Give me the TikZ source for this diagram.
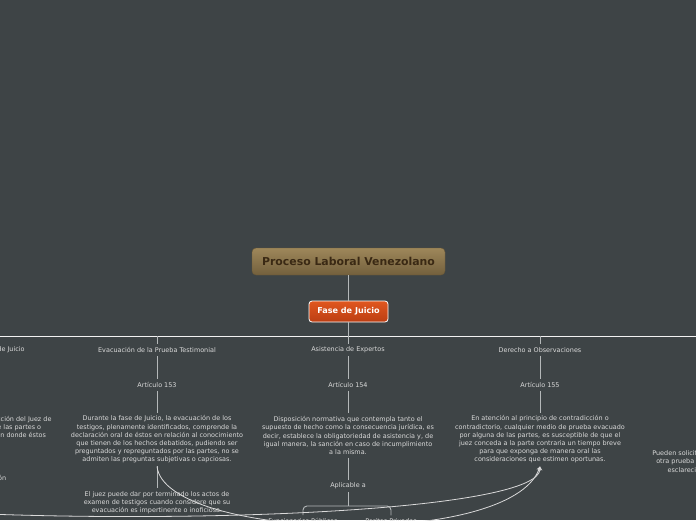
\documentclass[tikz,border=0pt]{standalone}
\usepackage{fontspec}
\setmainfont{DejaVu Sans}
\usetikzlibrary{arrows.meta}
\definecolor{bgmap}{HTML}{3E4446}
\definecolor{txtgrey}{HTML}{DADADA}
\definecolor{lngrey}{HTML}{B4B8B9}
\definecolor{roottop}{HTML}{9E875A}
\definecolor{rootbot}{HTML}{73603D}
\definecolor{rootbd}{HTML}{6A5836}
\definecolor{rootfg}{HTML}{3A2914}
\definecolor{fasetop}{HTML}{E0571F}
\definecolor{fasebot}{HTML}{BC3E13}

\begin{document}
\begin{tikzpicture}[>=Stealth,x=1pt,y=-1pt,
  txt/.style={text=txtgrey,font=\fontsize{6.45}{8.2}\selectfont,inner sep=3pt,align=center},
  conn/.style={draw=lngrey,line width=0.9pt},
  rel/.style={draw=txtgrey,line width=0.8pt,-{Stealth[length=4pt,width=4.5pt]}}]
  \fill[bgmap] (0,0) rectangle (696,520);
  \useasboundingbox (0,0) rectangle (696,520);
  \clip (0,0) rectangle (696,520);
  % central topic and main branch
  \node[draw=rootbd,rounded corners=4pt,top color=roottop,bottom color=rootbot,
    minimum width=193pt,minimum height=27pt,text=rootfg,
    font=\fontsize{10.9}{12}\selectfont\bfseries] (root) at (348.5,261.5) {Proceso Laboral Venezolano};
  \node[draw=white,line width=0.8pt,rounded corners=3pt,top color=fasetop,bottom color=fasebot,
    minimum width=79pt,minimum height=21pt,text=white,
    font=\fontsize{8.1}{9}\selectfont\bfseries] (fase) at (348.5,311.5) {Fase de Juicio};
  \coordinate (barL) at (0,336);
  \coordinate (barR) at (696,336);
  \draw[conn] (root) -- (fase);
  \draw[conn] (fase) -- (fase |- barL);
  \draw[draw=white!90!gray,line width=0.9pt] (barL) -- (barR);
  % branch titles
  \node[txt] (lblA) at (-30,350) {Apertura de la Audiencia de Juicio};
  \node[txt] (lblB) at (157,350) {Evacuación de la Prueba Testimonial};
  \node[txt] (lblC) at (348,350) {Asistencia de Expertos};
  \node[txt] (lblD) at (540,350) {Derecho a Observaciones};
  \foreach \n in {A,B,C,D}
    \draw[conn] (lbl\n |- barL) -- (lbl\n);
  % articles
  \node[txt] (artB) at (157,385) {Artículo 153};
  \node[txt] (artC) at (348,385) {Artículo 154};
  \node[txt] (artD) at (540,385) {Artículo 155};
  \foreach \n in {B,C,D}
    \draw[conn] (lbl\n) -- (art\n);
  % texts of the articles
  \node[txt] (parA) at (-39,431.5) {La audiencia será presidida bajo la dirección del Juez de\\
    Juicio, con la presencia obligatoria de las partes o\\
    sus apoderados judiciales, en la sala en donde éstos\\
    expondrán sus alegatos.};
  \node[txt] (parB) at (157,439.5) {Durante la fase de Juicio, la evacuación de los\\
    testigos, plenamente identificados, comprende la\\
    declaración oral de éstos en relación al conocimiento\\
    que tienen de los hechos debatidos, pudiendo ser\\
    preguntados y repreguntados por las partes, no se\\
    admiten las preguntas subjetivas o capciosas.};
  \node[txt] (parC) at (348,435.5) {Disposición normativa que contempla tanto el\\
    supuesto de hecho como la consecuencia jurídica, es\\
    decir, establece la obligatoriedad de asistencia y, de\\
    igual manera, la sanción en caso de incumplimiento\\
    a la misma.};
  \node[txt] (parD) at (540,439.5) {En atención al principio de contradicción o\\
    contradictorio, cualquier medio de prueba evacuado\\
    por alguna de las partes, es susceptible de que el\\
    juez conceda a la parte contraria un tiempo breve\\
    para que exponga de manera oral las\\
    consideraciones que estimen oportunas.};
  \node[txt] (parE) at (730,462) {Pueden solicitar al Juez la evacuación de alguna\\
    otra prueba que consideren necesaria para el\\
    esclarecimiento de la verdad procesal.};
  \draw[conn] (lblA) -- (parA);
  \foreach \n in {B,C,D}
    \draw[conn] (art\n) -- (par\n);
  % lower level
  \node[txt] (subA) at (-37,479) {Suspensión o Prolongación};
  \node[txt] (jzB) at (157,503) {El juez puede dar por terminado los actos de\\
    examen de testigos cuando considere que su\\
    evacuación es impertinente o inoficiosa.};
  \node[txt] (aplC) at (348,486) {Aplicable a};
  \node[txt] (funC) at (303,521) {Funcionarios Públicos};
  \node[txt] (perC) at (391,521) {Peritos Privados};
  \coordinate (brc) at (348,506);
  \draw[conn] (parA) -- (subA);
  \draw[conn] (parB) -- (jzB);
  \draw[conn] (parC) -- (aplC);
  \draw[conn] (aplC) -- (brc);
  \draw[conn,rounded corners=4pt] (funC.north) |- (brc) -| (perC.north);
  % relations towards Artículo 155
  \coordinate (relA) at (-60,512);
  \draw[rel] (relA) .. controls (200,525) and (540,510) .. (parD.south);
  \draw[rel] (parB.south) .. controls (165,540) and (510,550) .. (parD.south);
\end{tikzpicture}
\end{document}
